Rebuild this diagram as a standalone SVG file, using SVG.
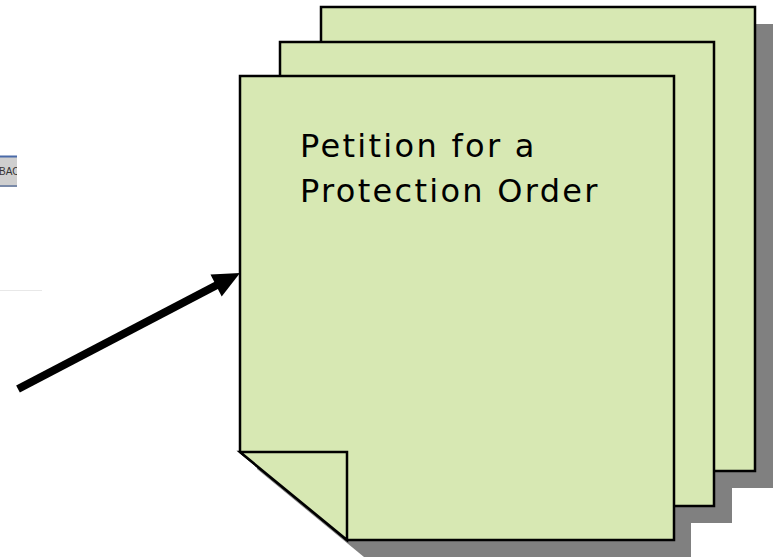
<svg xmlns="http://www.w3.org/2000/svg" width="776" height="559" viewBox="0 0 776 559">
<style>
.page{fill:#d7e8b3;stroke:#000;stroke-width:2.5;stroke-linejoin:miter}
.shadow{fill:#808080}
.label{font-family:"DejaVu Sans",Verdana,sans-serif;font-size:32px;letter-spacing:2.3px;fill:#000}
.btn{font-family:"Liberation Sans",Arial,sans-serif;font-size:10px;fill:#333}
</style>
<defs>
<path id="sheet" d="M0,0 H434 V464 H107 L0,376 Z"/>
<path id="fold" d="M0,376 H107 V464 Z"/>
<filter id="soft" x="-5%" y="-5%" width="110%" height="110%"><feGaussianBlur stdDeviation="0.7"/></filter>
<clipPath id="btnclip"><rect x="0" y="155" width="17" height="33"/></clipPath>
</defs>
<g id="button" clip-path="url(#btnclip)">
<rect x="-4" y="156" width="40" height="31" fill="#cfcfcf"/>
<line x1="-4" y1="156.5" x2="36" y2="156.5" stroke="#4a6aa8" stroke-width="2"/>
<line x1="-4" y1="186" x2="36" y2="186" stroke="#7a8aa8" stroke-width="2"/>
<text class="btn" x="-1" y="175">BAC</text>
</g>
<line x1="0" y1="290.5" x2="42" y2="290.5" stroke="#e8e8e8" stroke-width="1"/>
<g id="shadows" filter="url(#soft)">
<use href="#sheet" class="shadow" transform="translate(339,24)"/>
<use href="#sheet" class="shadow" transform="translate(298,59)"/>
<use href="#sheet" class="shadow" transform="translate(257,93)"/>
</g>
<g id="page3" transform="translate(321,7)">
<use href="#sheet" class="page"/>
<use href="#fold" class="page"/>
</g>
<g id="page2" transform="translate(280,42)">
<use href="#sheet" class="page"/>
<use href="#fold" class="page"/>
</g>
<g id="page1" transform="translate(240,76)">
<use href="#sheet" class="page"/>
<use href="#fold" class="page"/>
<text class="label" x="60" y="81">Petition for a</text>
<text class="label" x="60" y="126">Protection Order</text>
</g>
<g id="connectors">
<line x1="18" y1="389" x2="217" y2="285" stroke="#000" stroke-width="8"/>
<polygon points="240,273 221.7,296.5 210.5,274.5" fill="#000"/>
</g>
</svg>
